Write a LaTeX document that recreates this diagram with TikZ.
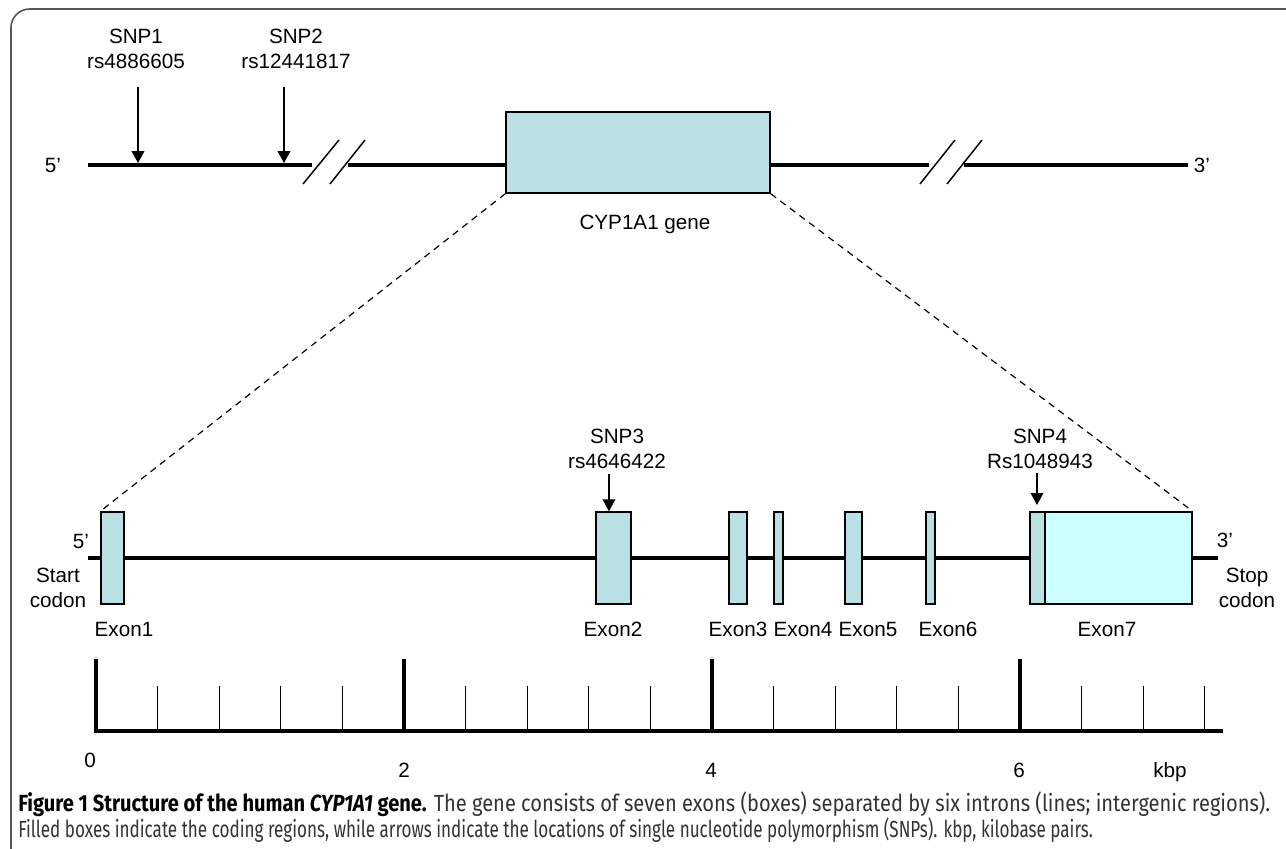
\documentclass[tikz,border=0pt]{standalone}
\usepackage{fontspec}
\setmainfont{Liberation Sans}
\newfontfamily\capfont{Fira Sans}
\usetikzlibrary{arrows.meta,fit}
\definecolor{exonfill}{RGB}{187,224,227}
\definecolor{bigfill}{RGB}{204,255,255}
\definecolor{framegray}{RGB}{85,85,85}
\begin{document}
\begin{tikzpicture}[x=0.75pt,y=-0.75pt,
  dna/.style={line width=3.3pt},
  exon/.style={draw, line width=1.1pt, fill=exonfill, inner sep=0pt},
  lbl/.style={font=\fontsize{15.5}{18.75}\selectfont, inner sep=0pt, align=center},
  snparrow/.style={line width=1.1pt, -{Triangle[length=9pt,width=9.5pt]}},
  zoomline/.style={line width=0.9pt, dash pattern=on 5pt off 4pt},
  brk/.style={line width=1.1pt},
  major/.style={line width=3.2pt},
  minor/.style={line width=1pt},
  caption/.style={anchor=base west, inner sep=0pt, font=\capfont\fontsize{17.5}{20}\selectfont}]
\useasboundingbox (0,0) rectangle (1286,849);
% frame
\draw[framegray, line width=1.2pt, rounded corners=14pt] (11,870) -- (11,9) -- (1310,9);

% ---------- upper map ----------
\coordinate (u5) at (88,165);
\coordinate (b1a) at (312,165);
\coordinate (b1b) at (348,165);
\coordinate (b2a) at (929,165);
\coordinate (b2b) at (964,165);
\coordinate (u3) at (1188,165);
\node[exon, fit={(506,112) (770,193)}] (gene) {};
\draw[dna] (u5) -- (b1a);
\draw[dna] (b1b) -- (gene.west |- u5);
\draw[dna] (gene.east |- u5) -- (b2a);
\draw[dna] (b2b) -- (u3);
\draw[brk] (303,184) -- (339,140);
\draw[brk] (330,184) -- (365,140);
\draw[brk] (920,184) -- (955,140);
\draw[brk] (947,184) -- (982,140);
\node[lbl, anchor=base] (u5lbl) at (53,172) {5’};
\node[lbl, anchor=base] (u3lbl) at (1202,172) {3’};
\node[lbl, anchor=base] (genelbl) at (645,229) {CYP1A1 gene};

\node[lbl] (snp1) at (136,48.5) {SNP1\\rs4886605};
\node[lbl] (snp2) at (296,48.5) {SNP2\\rs12441817};
\coordinate (a1) at (138,87);
\coordinate (a2) at (284,87);
\draw[snparrow, shorten >=1.5pt] (a1) -- (a1 |- u5);
\draw[snparrow, shorten >=1.5pt] (a2) -- (a2 |- u5);

% ---------- lower map ----------
\node[exon, fit={(101,512) (124,604)}] (e1) {};
\node[exon, fit={(596,512) (631,604)}] (e2) {};
\node[exon, fit={(729,512) (747,604)}] (e3) {};
\node[exon, fit={(774,512) (783,604)}] (e4) {};
\node[exon, fit={(845,512) (862,604)}] (e5) {};
\node[exon, fit={(926,512) (935,604)}] (e6) {};
\node[exon, fit={(1030,512) (1045,604)}] (e7a) {};
\node[exon, fill=bigfill, fit={(1045,512) (1192,604)}] (e7b) {};
\coordinate (l5) at (88,558);
\coordinate (l3) at (1218,558);
\draw[dna] (l5) -- (e1.west);
\draw[dna] (e1.east) -- (e2.west);
\draw[dna] (e2.east) -- (e3.west);
\draw[dna] (e3.east) -- (e4.west);
\draw[dna] (e4.east) -- (e5.west);
\draw[dna] (e5.east) -- (e6.west);
\draw[dna] (e6.east) -- (e7a.west);
\draw[dna] (e7b.east) -- (l3);

\draw[zoomline] (gene.south west) -- (e1.north west);
\draw[zoomline] (gene.south east) -- (e7b.north east);

\node[lbl, anchor=base] (l5lbl) at (81,548) {5’};
\node[lbl, anchor=base] (l3lbl) at (1225,547) {3’};
\node[lbl] (start) at (58,587.5) {Start\\codon};
\node[lbl] (stop) at (1247,587.5) {Stop\\codon};

\node[lbl] (snp3) at (617,449) {SNP3\\rs4646422};
\node[lbl] (snp4) at (1040,449) {SNP4\\Rs1048943};
\coordinate (a3) at (609,474);
\coordinate (a4) at (1037,473);
\draw[snparrow] (a3) -- (a3 |- e2.north);
\draw[snparrow] (a4) -- (1037,505);

\node[lbl, anchor=base] (x1) at (124,636) {Exon1};
\node[lbl, anchor=base] (x2) at (613,636) {Exon2};
\node[lbl, anchor=base] (x3) at (738,636) {Exon3};
\node[lbl, anchor=base] (x4) at (803,636) {Exon4};
\node[lbl, anchor=base] (x5) at (868,636) {Exon5};
\node[lbl, anchor=base] (x6) at (948,636) {Exon6};
\node[lbl, anchor=base] (x7) at (1107,636) {Exon7};

% ---------- scale bar ----------
\draw[major, line join=miter] (96,659) -- (96,731) -- (1223,731);
\foreach \xx in {404,712,1020} \draw[major] (\xx,659) -- (\xx,731);
\foreach \i in {1,2,3,4,6,7,8,9,11,12,13,14,16,17,18}
  \draw[minor] ({96+\i*61.6},686) -- ({96+\i*61.6},731);
\node[lbl, anchor=base] (k0) at (90,767) {0};
\node[lbl, anchor=base] (k2) at (404,777) {2};
\node[lbl, anchor=base] (k4) at (711,777) {4};
\node[lbl, anchor=base] (k6) at (1019,777) {6};
\node[lbl, anchor=base] (kbp) at (1170,777) {kbp};

% ---------- caption ----------
\node[caption] (cap1) at (18,811) {\resizebox{939pt}{\height}{\textbf{Figure 1 Structure of the human \textit{CYP1A1} gene.} \color{black!80}The gene consists of seven exons (boxes) separated by six introns (lines; intergenic regions).}};
\node[caption] (cap2) at (18,837) {\resizebox{806pt}{\height}{\color{black!80}Filled boxes indicate the coding regions, while arrows indicate the locations of single nucleotide polymorphism (SNPs). kbp, kilobase pairs.}};
\end{tikzpicture}
\end{document}
